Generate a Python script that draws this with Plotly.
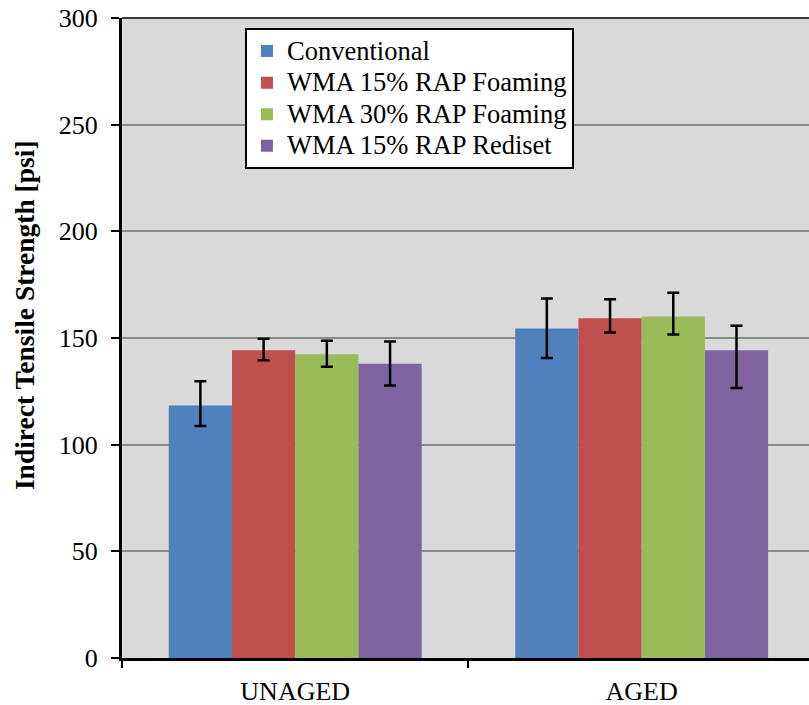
import plotly.graph_objects as go

categories = ["UNAGED", "AGED"]
series_names = ["Conventional", "WMA 15% RAP Foaming", "WMA 30% RAP Foaming", "WMA 15% RAP Rediset"]
conventional = [118.4, 154.5]
wma15_foam = [144.2, 159.2]
wma30_foam = [142.4, 160.1]
wma15_rediset = [137.9, 144.2]
err_plus = [[11.3, 14.0], [5.5, 9.0], [6.3, 11.1], [10.5, 11.5]]
err_minus = [[9.6, 13.9], [4.6, 6.6], [5.9, 8.5], [10.2, 17.6]]
y_ticks = [0, 50, 100, 150, 200, 250, 300]
y_title = "Indirect Tensile Strength [psi]"

values = [conventional, wma15_foam, wma30_foam, wma15_rediset]
colors = ["#4F81BD", "#C0504D", "#9BBB59", "#8064A2"]
FONT = "Liberation Serif, Times New Roman, serif"

fig = go.Figure()
for name, vals, col, ep, em in zip(series_names, values, colors, err_plus, err_minus):
    fig.add_trace(go.Bar(
        x=categories, y=vals,
        name='<span style="font-size:26.5px">' + name + '</span>',
        marker=dict(color=col, line=dict(width=0)),
        error_y=dict(type="data", symmetric=False, array=ep, arrayminus=em,
                     color="black", thickness=2.5, width=6),
    ))

fig.update_layout(
    width=809, height=705,
    margin=dict(l=122, r=0, t=18, b=47),
    paper_bgcolor="white", plot_bgcolor="#D9D9D9",
    barmode="group", bargap=0.27, bargroupgap=0,
    font=dict(family=FONT, color="black"),
    legend=dict(
        x=0.179, y=0.984, xanchor="left", yanchor="top",
        bgcolor="white", bordercolor="black", borderwidth=2,
        font=dict(family=FONT, size=22, color="black"),
        tracegroupgap=0,
    ),
    showlegend=True,
)
fig.update_xaxes(
    range=[-0.5, 1.483], showgrid=False, zeroline=False,
    showline=True, linecolor="black", linewidth=3,
    ticks="outside", tickson="boundaries", ticklen=7, tickwidth=2, tickcolor="black",
    tickfont=dict(family=FONT, size=26, color="black"),
    ticklabelstandoff=8,
)
fig.update_yaxes(
    range=[0, 300], tickvals=y_ticks, showgrid=True, gridcolor="#8A8A8A", gridwidth=2,
    zeroline=False, showline=True, linecolor="black", linewidth=3,
    ticks="outside", ticklen=8, tickwidth=2, tickcolor="black",
    tickfont=dict(family=FONT, size=26, color="black"),
    ticklabelstandoff=8,
)
fig.add_shape(type="line", xref="paper", yref="paper", x0=0, x1=1, y0=1, y1=1,
              line=dict(color="#3A3A3A", width=2))
fig.add_annotation(
    text="<b>" + y_title + "</b>", xref="paper", yref="paper",
    x=-0.141, y=0.536, xanchor="center", yanchor="middle",
    textangle=-90, showarrow=False,
    font=dict(family=FONT, size=27.5, color="black"),
)

fig.write_html("out.html", config={"displayModeBar": False},
               post_script="document.body.style.margin='0';")
